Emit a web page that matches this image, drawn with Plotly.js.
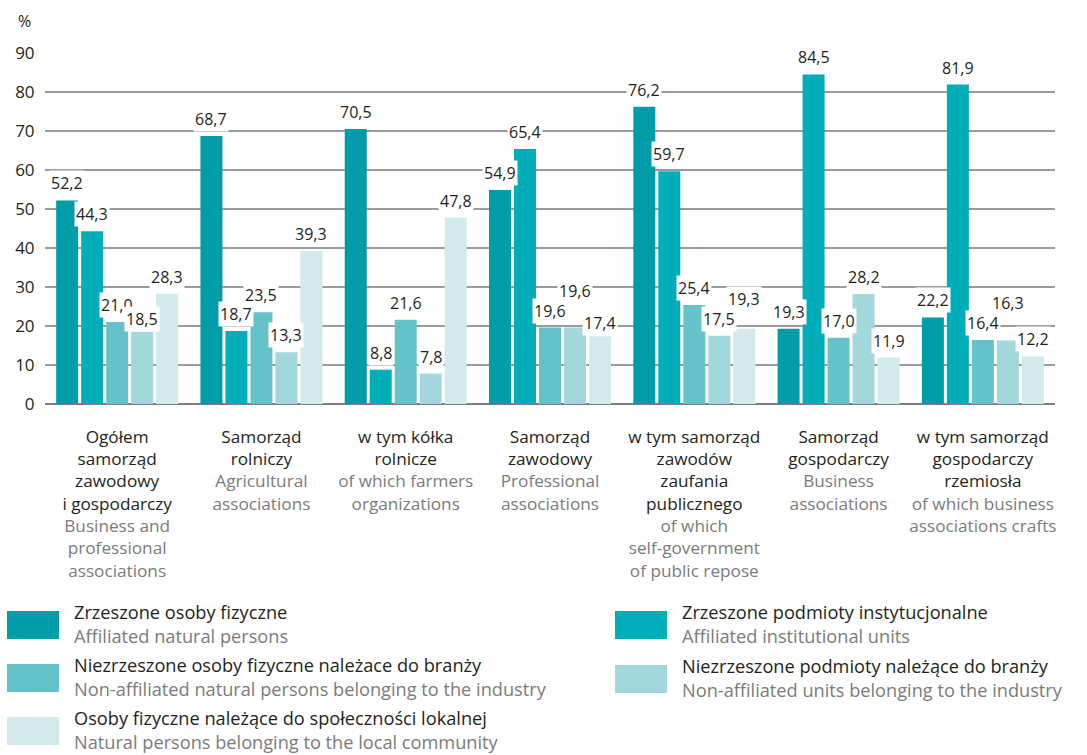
<!DOCTYPE html>
<html>
<head>
<meta charset="utf-8">
<script src="https://cdn.plot.ly/plotly-3.0.1.min.js"></script>
<style>
  html, body { margin: 0; padding: 0; background: #fff; }
  #chart { width: 1087px; height: 755px; }
</style>
</head>
<body>
<div id="chart"></div>
<script>
// Categories: Polish name lines and English translation lines
const categoriesPl = [
  ["Ogółem", "samorząd", "zawodowy", "i gospodarczy"],
  ["Samorząd", "rolniczy"],
  ["w tym kółka", "rolnicze"],
  ["Samorząd", "zawodowy"],
  ["w tym samorząd", "zawodów", "zaufania", "publicznego"],
  ["Samorząd", "gospodarczy"],
  ["w tym samorząd", "gospodarczy", "rzemiosła"]
];
const categoriesEn = [
  ["Business and", "professional", "associations"],
  ["Agricultural", "associations"],
  ["of which farmers", "organizations"],
  ["Professional", "associations"],
  ["of which", "self-government", "of public repose"],
  ["Business", "associations"],
  ["of which business", "associations crafts"]
];

// Series values (%)
const affiliatedPersons      = [52.2, 68.7, 70.5, 54.9, 76.2, 19.3, 22.2];
const affiliatedInstitutions = [44.3, 18.7,  8.8, 65.4, 59.7, 84.5, 81.9];
const nonAffiliatedPersons   = [21.0, 23.5, 21.6, 19.6, 25.4, 17.0, 16.4];
const nonAffiliatedUnits     = [18.5, 13.3,  7.8, 19.6, 17.5, 28.2, 16.3];
const localCommunity         = [28.3, 39.3, 47.8, 17.4, 19.3, 11.9, 12.2];

// Legend names
const namesPl = [
  "Zrzeszone osoby fizyczne",
  "Zrzeszone podmioty instytucjonalne",
  "Niezrzeszone osoby fizyczne należace do branży",
  "Niezrzeszone podmioty należące do branży",
  "Osoby fizyczne należące do społeczności lokalnej"
];
const namesEn = [
  "Affiliated natural persons",
  "Affiliated institutional units",
  "Non-affiliated natural persons belonging to the industry",
  "Non-affiliated units belonging to the industry",
  "Natural persons belonging to the local community"
];

const yTicks = [0, 10, 20, 30, 40, 50, 60, 70, 80, 90];

const colors = ["#009ca8", "#00aeb9", "#66c2c9", "#a2d7db", "#d2eaec"];
const series = [affiliatedPersons, affiliatedInstitutions, nonAffiliatedPersons,
                nonAffiliatedUnits, localCommunity];

const FONT = "Open Sans, Noto Sans, sans-serif";
const DARK = "#231f20";
const GREY = "#7b7b7b";

const margin = { l: 45, r: 32, t: 53, b: 351 };
const bargap = 0.134;
const bargroupgap = 0.12;

const xIdx = categoriesPl.map((_, i) => i);
const tickText = categoriesPl.map((pl, i) =>
  pl.join("<br>") + "<br>" +
  categoriesEn[i].map(s => "<span style='color:" + GREY + "'>" + s + "</span>").join("<br>")
);

const traces = series.map((vals, s) => ({
  type: "bar",
  x: xIdx,
  y: vals,
  name: namesPl[s],
  marker: { color: colors[s], line: { width: 0 } },
  showlegend: false,
  hoverinfo: "y"
}));

// Value labels above each bar, on a white box that hides the gridlines.
// When the neighbour on the left has almost the same value the label is
// lifted; when it is slightly higher the label drops closer to its bar.
const plotW = 1087 - margin.l - margin.r;
const catW = plotW / categoriesPl.length;
const slotW = catW * (1 - bargap) / series.length;
const annotations = [];
series.forEach((vals, s) => {
  vals.forEach((v, i) => {
    let shift = 4;
    if (s > 0) {
      const diff = series[s - 1][i] - v;
      const d = Math.abs(diff);
      if (d < 2) shift += Math.round(20 - 4 * d);
      else if (diff > 0 && d < 3) shift = 0;
    }
    annotations.push({
      xref: "x", yref: "y", x: i, y: v,
      xshift: (s - (series.length - 1) / 2) * slotW,
      yshift: shift,
      yanchor: "bottom", xanchor: "center",
      text: v.toFixed(1).replace(".", ","),
      showarrow: false,
      bgcolor: "#ffffff",
      borderpad: 1,
      font: { family: FONT, size: 16, color: DARK }
    });
  });
});

// Unit label above the y axis
annotations.push({
  xref: "paper", yref: "paper", x: -0.02, y: 1, yshift: 32,
  xanchor: "center", yanchor: "middle", showarrow: false,
  text: "%", font: { family: FONT, size: 16, color: DARK }
});

// Legend: swatches drawn as shapes, two-line labels (Polish / English) as annotations
const legendPos = [
  { x: 7,   y: 611 },
  { x: 615, y: 611 },
  { x: 7,   y: 664 },
  { x: 615, y: 665 },
  { x: 7,   y: 717 }
];
const shapes = [];
const pxX = px => (px - margin.l) / plotW;
const plotH = 755 - margin.t - margin.b;
const pxY = py => (755 - margin.b - py) / plotH;
legendPos.forEach((p, s) => {
  const w = 52;
  shapes.push({
    type: "rect", xref: "paper", yref: "paper",
    x0: pxX(p.x), x1: pxX(p.x + w),
    y0: pxY(p.y), y1: pxY(p.y + 28),
    fillcolor: colors[s], line: { width: 0 }
  });
  annotations.push({
    xref: "paper", yref: "paper", x: pxX(p.x + w + 14), y: pxY(p.y + 13),
    xanchor: "left", yanchor: "middle", align: "left", showarrow: false,
    borderpad: 0,
    text: namesPl[s] + "<br><span style='color:" + GREY + "'>" + namesEn[s] + "</span>",
    font: { family: FONT, size: 18.2, color: DARK }
  });
});

const layout = {
  width: 1087, height: 755,
  margin: margin,
  paper_bgcolor: "#ffffff", plot_bgcolor: "#ffffff",
  barmode: "group",
  bargap: bargap, bargroupgap: bargroupgap,
  font: { family: FONT, color: DARK },
  xaxis: {
    range: [-0.5, categoriesPl.length - 0.5],
    tickmode: "array", tickvals: xIdx, ticktext: tickText,
    tickangle: 0,
    ticks: "outside", ticklen: 17, tickcolor: "rgba(0,0,0,0)",
    tickfont: { family: FONT, size: 17.2, color: DARK },
    showgrid: false, zeroline: false, showline: false,
    fixedrange: true
  },
  yaxis: {
    range: [0, 90],
    tickmode: "array", tickvals: yTicks, ticktext: yTicks.map(String),
    ticks: "outside", ticklen: 6, tickcolor: "rgba(0,0,0,0)",
    tickfont: { family: FONT, size: 17, color: DARK },
    showgrid: true, gridcolor: "#9b9b9b", gridwidth: 1.3,
    zeroline: true, zerolinecolor: "#7d7d7d", zerolinewidth: 2.2,
    showline: false, fixedrange: true
  },
  annotations: annotations,
  shapes: shapes,
  showlegend: false
};

Plotly.newPlot("chart", traces, layout, { displayModeBar: false, staticPlot: true });
</script>
</body>
</html>
